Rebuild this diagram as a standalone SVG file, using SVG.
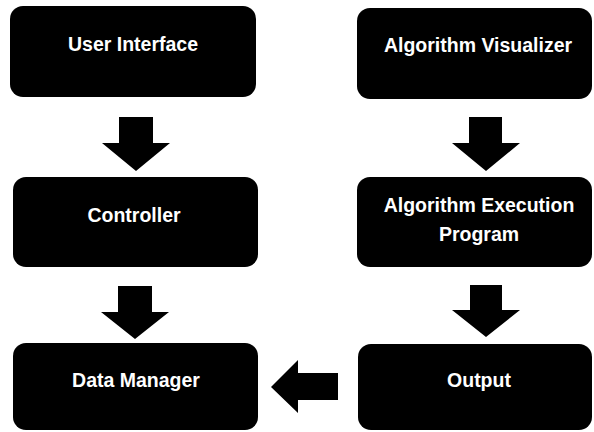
<svg xmlns="http://www.w3.org/2000/svg" width="594" height="432" viewBox="0 0 594 432">
  <style>
    .box { fill: #000000; }
    .label { fill: #ffffff; font-family: "Liberation Sans", Arial, sans-serif; font-weight: bold; font-size: 19.5px; text-anchor: middle; }
    .arrow { fill: #000000; }
  </style>
  <rect width="594" height="432" fill="#ffffff"/>

  <g id="user-interface">
    <rect class="box" x="10" y="6" width="246" height="91" rx="13"/>
    <text class="label" x="133" y="51">User Interface</text>
  </g>

  <g id="algorithm-visualizer">
    <rect class="box" x="357" y="8" width="235" height="91" rx="13"/>
    <text class="label" x="478" y="52">Algorithm Visualizer</text>
  </g>

  <g id="controller">
    <rect class="box" x="13" y="177" width="245" height="90" rx="13"/>
    <text class="label" x="134" y="222">Controller</text>
  </g>

  <g id="algorithm-execution-program">
    <rect class="box" x="357" y="177" width="235" height="90" rx="13"/>
    <text class="label" x="479" y="212">Algorithm Execution</text>
    <text class="label" x="479" y="241">Program</text>
  </g>

  <g id="data-manager">
    <rect class="box" x="13" y="343" width="245" height="87" rx="13"/>
    <text class="label" x="136" y="387">Data Manager</text>
  </g>

  <g id="output">
    <rect class="box" x="358" y="344" width="234" height="86" rx="13"/>
    <text class="label" x="479" y="387">Output</text>
  </g>

  <g id="connectors">
    <!-- User Interface -> Controller -->
    <polygon class="arrow" points="119,117 153,117 153,143 170,143 136,171 102,143 119,143"/>
    <!-- Algorithm Visualizer -> Algorithm Execution Program -->
    <polygon class="arrow" points="469,117 502,117 502,143 520,143 486,171 452,143 469,143"/>
    <!-- Controller -> Data Manager -->
    <polygon class="arrow" points="118,286 152,286 152,312 169,312 135,339 101,312 118,312"/>
    <!-- Algorithm Execution Program -> Output -->
    <polygon class="arrow" points="470,285 502,285 502,310 520,310 486,337 452,310 470,310"/>
    <!-- Output -> Data Manager -->
    <polygon class="arrow" points="338,373 338,400 298,400 298,413 271,387 298,360 298,373"/>
  </g>
</svg>
